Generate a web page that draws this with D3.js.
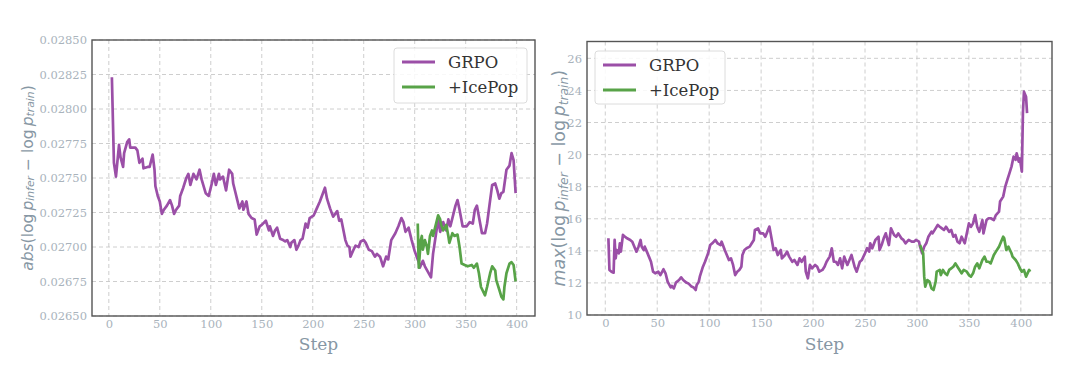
<!DOCTYPE html>
<html>
<head>
<meta charset="utf-8">
<script src="https://cdn.jsdelivr.net/npm/d3@7"></script>
<style>
  body { margin: 0; background: #fff; }
  svg { display: block; }
</style>
</head>
<body>
<div id="chart"></div>
<script>
// ---- data ----
const absGrpoSteps = [3,5,7,10,11.5,14,15,18,20,21,26,28,30,33,34,38,40,43,44.8,45.7,48,50,52,54,57,60,62,64,66,69,70,73,76,78,80,83,86,89,91,95,98,101,103,105,108,109,112,115,118,121,122,124,126,128,131,132,135,137,140,143,145,148,150,154,157,158,161,163,165,168,171,173,175,178,179,182,184,186,188,190,193,195,197,201,204,207,209,212,214,217,220,224,226,228,232,234,236,237,240,242,245,247,250,252,255,258,261,263,266,269,272,274,277,281,284,287,289,291,294,297,300,304,305,308,310,313,316,318,321,323,325,328,331,333,335,338,340,342,344,347,351,354,357,359,361,364,366,369,371,374,376,379,381,383,385,387,390,393,395,397,399];
const absGrpoVals = [0.02823,0.02761,0.02751,0.02774,0.02765,0.02758,0.02768,0.02776,0.02778,0.02772,0.02772,0.02770,0.02761,0.02764,0.02757,0.02758,0.02758,0.02767,0.02756,0.02744,0.02737,0.02733,0.02724,0.02727,0.02730,0.02734,0.02730,0.02724,0.02727,0.02730,0.02737,0.02743,0.02750,0.02753,0.02745,0.02753,0.02749,0.02756,0.02749,0.02739,0.02737,0.02746,0.02753,0.02745,0.02753,0.02749,0.02751,0.02741,0.02756,0.02753,0.02746,0.02740,0.02734,0.02728,0.02733,0.02727,0.02733,0.02724,0.02721,0.02720,0.02709,0.02715,0.02716,0.02719,0.02712,0.02715,0.02708,0.02712,0.02714,0.02706,0.02705,0.02704,0.02705,0.02700,0.02703,0.02705,0.02698,0.02701,0.02705,0.02706,0.02717,0.02714,0.02721,0.02723,0.02728,0.02733,0.02737,0.02743,0.02735,0.02728,0.02722,0.02726,0.02719,0.02720,0.02705,0.02701,0.02700,0.02693,0.02698,0.02701,0.02700,0.02704,0.02705,0.02703,0.02698,0.02697,0.02693,0.02695,0.02693,0.02686,0.02693,0.02691,0.02705,0.02710,0.02715,0.02721,0.02718,0.02711,0.02714,0.02705,0.02697,0.02689,0.02685,0.02690,0.02686,0.02682,0.02678,0.02695,0.02710,0.02720,0.02711,0.02718,0.02712,0.02720,0.02715,0.02724,0.02730,0.02734,0.02727,0.02715,0.02715,0.02718,0.02717,0.02727,0.02730,0.02718,0.02710,0.02710,0.02717,0.02734,0.02745,0.02746,0.02741,0.02735,0.02739,0.02740,0.02756,0.02759,0.02768,0.02763,0.02739];

const absIceSteps = [303,304,306,307,308,310,312,313,315,317,318,320,321,323,325,326,328,331,333,334,337,339,342,344,346,349,352,356,358,361,363,365,369,371,374,376,379,380,383,385,387,388,390,393,395,397,399];
const absIceVals = [0.02717,0.02685,0.02705,0.02708,0.02698,0.02705,0.02700,0.02695,0.02708,0.02712,0.02708,0.02714,0.02717,0.02723,0.02720,0.02716,0.02712,0.02716,0.02708,0.02703,0.02710,0.02708,0.02709,0.02700,0.02688,0.02687,0.02686,0.02687,0.02685,0.02688,0.02681,0.02671,0.02665,0.02671,0.02681,0.02686,0.02683,0.02676,0.02669,0.02664,0.02662,0.02671,0.02681,0.02688,0.02689,0.02687,0.02675];

const maxGrpoSteps = [3,4,6,8,9,10,11,13,14,15,17,19,21,24,26,28,30,32,34,35,37,38,40,42,44,46,48,51,53,56,58,60,63,64,66,68,71,73,75,78,80,83,85,87,88,90,91,94,96,99,101,103,106,108,111,112,115,117,119,121,123,125,127,129,131,132,134,136,139,141,143,144,147,149,152,154,156,158,160,162,164,166,169,170,173,175,177,180,182,185,187,189,192,193,195,197,199,202,204,206,209,211,213,216,218,220,222,224,226,228,230,233,235,237,240,242,245,247,250,252,254,255,257,260,263,264,266,268,270,273,275,278,280,282,285,287,289,292,295,297,299,302,303,305,307,309,311,314,315,318,320,322,324,326,328,331,333,335,337,339,341,343,346,348,350,352,354,356,358,360,363,364,367,369,371,374,376,379,380,383,385,387,389,391,393,395,396,398,399,401,402,403,405,406];
const maxGrpoVals = [14.78,12.81,12.70,12.64,14.68,13.53,14.05,13.85,14.47,13.95,14.99,14.88,14.78,14.68,14.57,14.26,13.95,14.26,14.68,14.26,14.05,14.26,13.95,13.64,13.32,12.70,12.60,12.70,12.49,12.85,12.60,12.08,11.72,11.81,11.66,12.02,12.18,12.35,12.18,12.02,11.97,11.77,11.72,11.56,11.87,12.08,12.39,13.01,13.32,13.85,14.36,14.47,14.68,14.47,14.36,14.57,14.05,13.74,13.43,13.53,13.12,12.49,12.70,12.81,13.01,13.74,14.05,14.16,14.26,14.47,14.68,15.30,15.40,15.09,15.09,14.88,15.19,15.51,14.78,14.05,14.16,13.74,14.05,13.53,13.74,13.95,13.64,13.32,13.43,13.12,13.53,13.32,13.64,12.70,12.29,13.12,12.91,13.12,13.01,12.70,12.81,13.01,13.32,13.64,14.16,13.32,13.32,13.12,13.53,12.91,13.64,13.12,13.43,13.74,13.01,12.70,13.32,13.43,13.85,14.16,13.95,14.47,14.16,14.68,14.88,14.05,14.36,14.78,15.09,14.36,15.40,14.99,14.88,15.09,14.78,14.68,14.47,14.68,14.57,14.57,14.68,14.57,14.26,13.85,14.26,14.47,14.88,15.19,15.09,15.40,15.61,15.50,15.40,15.30,15.50,15.19,15.30,14.88,14.99,14.57,14.47,14.88,14.47,15.09,15.71,15.50,15.71,16.23,15.50,15.19,15.92,15.09,15.92,16.03,16.03,15.92,16.23,16.44,17.07,17.38,18.00,18.42,18.83,19.25,19.87,19.67,20.08,19.56,19.77,18.94,22.58,23.92,23.61,22.58];

const maxIceSteps = [303,306,307,308,310,312,314,316,318,319,322,323,325,327,329,331,333,335,337,339,341,343,345,348,350,352,354,356,358,360,363,365,367,369,371,374,376,379,381,383,384,386,388,391,392,395,397,399,401,403,405,408,409];
const maxIceVals = [14.36,13.85,12.39,11.77,12.18,12.08,11.66,11.56,12.08,12.70,12.81,12.49,12.81,12.60,12.49,12.81,12.91,13.01,13.22,13.01,12.81,12.60,12.81,12.70,12.49,12.39,12.60,13.01,13.22,12.91,13.43,13.64,13.32,13.32,13.22,13.74,13.95,14.26,14.57,14.88,14.78,14.05,14.26,13.85,13.64,13.43,13.22,12.91,12.70,12.81,12.39,12.81,12.70];

const xTicks = [0, 50, 100, 150, 200, 250, 300, 350, 400];
const absTicks = [0.0265, 0.02675, 0.027, 0.02725, 0.0275, 0.02775, 0.028, 0.02825, 0.0285];
const maxTicks = [10, 12, 14, 16, 18, 20, 22, 24, 26];
const seriesNames = ['GRPO', '+IcePop'];
const seriesColors = ['#9b4fa7', '#58a348'];

const zip = (xs, ys) => xs.map((x, i) => ({ x: x, y: ys[i] }));

const panels = [
    {
        left: 92, right: 535, top: 40, bottom: 316,
        xDomain: [-16.5, 418], yDomain: [0.0265, 0.0285],
        yTicks: absTicks, yFmt: d3.format('.5f'),
        fn: 'abs', labelX: 28, labelSize: 15.5,
        series: [zip(absGrpoSteps, absGrpoVals), zip(absIceSteps, absIceVals)],
        legend: { x: 394, y: 48, w: 133, h: 55 }
    },
    {
        left: 587, right: 1052, top: 41.5, bottom: 315,
        xDomain: [-17.6, 430], yDomain: [10, 27.05],
        yTicks: maxTicks, yFmt: d3.format('d'),
        fn: 'max', labelX: 560, labelSize: 17.5,
        series: [zip(maxGrpoSteps, maxGrpoVals), zip(maxIceSteps, maxIceVals)],
        legend: { x: 595, y: 51, w: 130, h: 53 }
    }
];

const svg = d3.select('#chart').append('svg')
    .attr('width', 1080)
    .attr('height', 375);

panels.forEach(p => {
    const x = d3.scaleLinear().domain(p.xDomain).range([p.left, p.right]);
    const y = d3.scaleLinear().domain(p.yDomain).range([p.bottom, p.top]);

    const g = svg.append('g');

    // grid
    g.append('g').selectAll('line.vg')
        .data(xTicks).enter().append('line')
        .attr('x1', d => x(d)).attr('x2', d => x(d))
        .attr('y1', p.top).attr('y2', p.bottom)
        .attr('stroke', '#c8c8c8').attr('stroke-width', 0.9)
        .attr('stroke-dasharray', '4,3');
    g.append('g').selectAll('line.hg')
        .data(p.yTicks).enter().append('line')
        .attr('x1', p.left).attr('x2', p.right)
        .attr('y1', d => y(d)).attr('y2', d => y(d))
        .attr('stroke', '#c8c8c8').attr('stroke-width', 0.9)
        .attr('stroke-dasharray', '4,3');

    // axes
    const xAxis = g.append('g')
        .attr('transform', `translate(0, ${p.bottom})`)
        .call(d3.axisBottom(x).tickValues(xTicks).tickSize(0).tickPadding(4));
    const yAxis = g.append('g')
        .attr('transform', `translate(${p.left}, 0)`)
        .call(d3.axisLeft(y).tickValues(p.yTicks).tickFormat(p.yFmt).tickSize(0).tickPadding(5));
    [xAxis, yAxis].forEach(a => {
        a.select('.domain').remove();
        a.selectAll('text')
            .attr('fill', '#a9b3bc')
            .style('font-family', '"DejaVu Serif", serif')
            .style('font-size', '11.5px');
    });

    // lines
    const line = d3.line().x(d => x(d.x)).y(d => y(d.y));
    p.series.forEach((s, i) => {
        g.append('path')
            .datum(s)
            .attr('fill', 'none')
            .attr('stroke', seriesColors[i])
            .attr('stroke-width', 2.7)
            .attr('stroke-linejoin', 'round')
            .attr('d', line);
    });

    // frame
    g.append('rect')
        .attr('x', p.left).attr('y', p.top)
        .attr('width', p.right - p.left).attr('height', p.bottom - p.top)
        .attr('fill', 'none').attr('stroke', '#555').attr('stroke-width', 1.4);

    // x label
    g.append('text')
        .attr('x', (p.left + p.right) / 2 + 5).attr('y', 350)
        .attr('text-anchor', 'middle')
        .attr('fill', '#8797a4')
        .style('font-family', '"DejaVu Serif", serif')
        .style('font-size', '17px')
        .text('Step');

    // y label (math-like)
    const yl = g.append('text')
        .attr('transform', `translate(${p.labelX}, ${(p.top + p.bottom) / 2}) rotate(-90)`)
        .attr('text-anchor', 'middle')
        .attr('dominant-baseline', 'middle')
        .attr('fill', '#8797a4')
        .style('font-family', '"DejaVu Sans", sans-serif')
        .style('font-size', p.labelSize + 'px');
    const sub = p.labelSize * 0.7;
    yl.append('tspan').style('font-style', 'italic').text(p.fn);
    yl.append('tspan').text('(log\u2009');
    yl.append('tspan').style('font-style', 'italic').text('p');
    yl.append('tspan').style('font-style', 'italic').style('font-size', sub + 'px').attr('dy', '0.3em').text('infer');
    yl.append('tspan').attr('dy', '-0.21em').text(' \u2212 log\u2009');
    yl.append('tspan').style('font-style', 'italic').text('p');
    yl.append('tspan').style('font-style', 'italic').style('font-size', sub + 'px').attr('dy', '0.3em').text('train');
    yl.append('tspan').attr('dy', '-0.21em').text(')');

    // legend
    const L = p.legend;
    const lg = g.append('g');
    lg.append('rect')
        .attr('x', L.x).attr('y', L.y).attr('width', L.w).attr('height', L.h)
        .attr('rx', 3)
        .attr('fill', 'rgba(255,255,255,0.85)')
        .attr('stroke', '#dcdcdc');
    seriesNames.forEach((name, i) => {
        const cy = L.y + 14 + i * 25;
        lg.append('line')
            .attr('x1', L.x + 8).attr('x2', L.x + 41)
            .attr('y1', cy).attr('y2', cy)
            .attr('stroke', seriesColors[i]).attr('stroke-width', 2.8);
        lg.append('text')
            .attr('x', L.x + 54).attr('y', cy)
            .attr('dominant-baseline', 'central')
            .attr('fill', '#333')
            .style('font-family', '"DejaVu Serif", serif')
            .style('font-size', '16.5px')
            .text(name);
    });
});
</script>
</body>
</html>
